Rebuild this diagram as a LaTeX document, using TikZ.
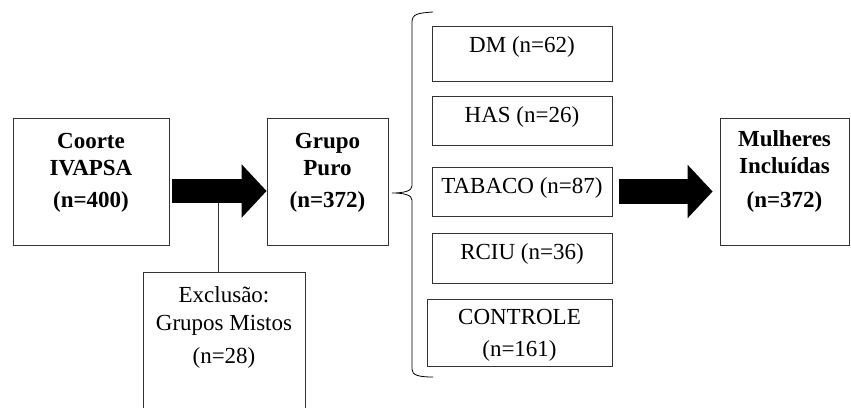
\documentclass[tikz,border=0pt]{standalone}
\usepackage{fontspec}
\setmainfont{Liberation Serif}
\usetikzlibrary{positioning,arrows.meta,calc}

\begin{document}
\begin{tikzpicture}[x=1pt,y=-1pt,on grid,
    box/.style={draw=black!80, line width=0.8pt, inner sep=0pt, align=center,
                font=\fontsize{23}{27}\selectfont},
    bigbox/.style={box, font=\fontsize{23}{27}\selectfont\bfseries,
                   text height=89pt, text depth=38pt},
    group/.style={box, minimum width=180pt, text height=26pt},
    fat/.style={line width=24.5pt, -{Triangle[length=25pt,width=52pt]}}]
   \useasboundingbox (0,0) rectangle (851,407);

   \node[bigbox, minimum width=156pt] (coorte) at (91,181.5) {Coorte\\IVAPSA\\[5pt](n=400)};
   \node[bigbox, minimum width=121pt] (grupo)    [right=236.5pt of coorte] {Grupo\\Puro\\[5pt](n=372)};
   \node[bigbox, minimum width=129pt] (mulheres) [right=457pt of grupo]    {Mulheres\\Inclu\'idas\\[7pt](n=372)};
   \node[box, minimum width=162pt, text height=91pt, text depth=59pt,
         font=\fontsize{23}{28}\selectfont] (exclusao) [below right=165.5pt and 133pt of coorte]
         {Exclus\~ao:\\Grupos Mistos\\[5pt](n=28)};

   \node[group, text depth=23pt] (tabaco)   [below right=10pt and 194.5pt of grupo] {TABACO (n=87)};
   \node[group, text depth=23pt] (has)      [above=71pt of tabaco] {HAS (n=26)};
   \node[group, text depth=29pt] (dm)       [above=67pt of has]    {DM (n=62)};
   \node[group, text depth=24pt] (rciu)     [below=66.5pt of tabaco] {RCIU (n=36)};
   \node[group, minimum width=185pt, text height=57pt, text depth=10pt,
         font=\fontsize{23}{28}\selectfont] (controle) [below=74.5pt of rciu, xshift=-2.5pt]
         {CONTROLE\\[4pt](n=161)};

   % exclusion branch
   \coordinate (cut) at ($(coorte.east)!0.5!(grupo.west)$);
   \draw[black!80, line width=0.8pt] (cut) -- (cut |- exclusao.north);

   \draw[fat, shorten <=3pt] ([yshift=-9.5pt]coorte.east) -- ([yshift=-9.5pt]grupo.west);
   \draw[fat, shorten <=7pt, shorten >=7pt] (tabaco.east) -- (tabaco.east -| mulheres.west);

   % brace
   \draw[line width=0.8pt] (433,12) .. controls (418,13) and (412,14) .. (412,22)
      -- (412,186) .. controls (412,191) and (404,193) .. (392,193)
      .. controls (404,193) and (412,195) .. (412,200)
      -- (412,369) .. controls (412,375) and (418,377) .. (433,377);
\end{tikzpicture}
\end{document}
